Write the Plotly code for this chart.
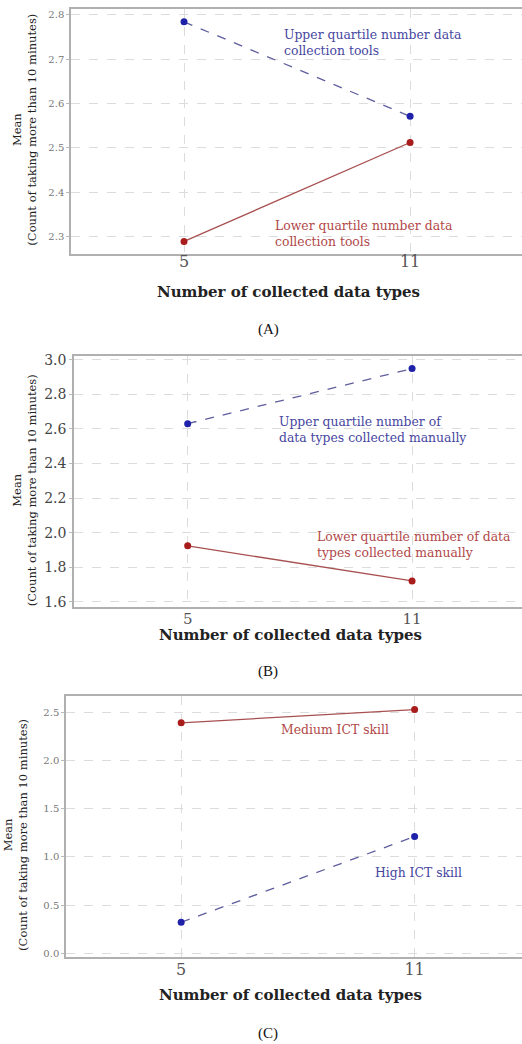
import plotly.graph_objects as go

W, H = 522, 1044

x_vals = [5, 11]
# Panel A
a_upper = [2.784, 2.571]
a_lower = [2.289, 2.512]
a_ticks = [2.3, 2.4, 2.5, 2.6, 2.7, 2.8]
# Panel B
b_upper = [2.63, 2.948]
b_lower = [1.924, 1.721]
b_ticks = [1.6, 1.8, 2.0, 2.2, 2.4, 2.6, 2.8, 3.0]
# Panel C
c_medium = [2.39, 2.528]
c_high = [0.322, 1.211]
c_ticks = [0.0, 0.5, 1.0, 1.5, 2.0, 2.5]

xtitle = "Number of collected data types"
ytitle = "Mean<br>(Count of taking more than 10 minutes)"

BLUE_M = "#1f22a8"
BLUE_L = "#5e5e9e"
RED_M = "#a81c1c"
RED_L = "#a85050"
BLUE_T = "#4646a0"
RED_T = "#b04848"
SERIF = "DejaVu Serif"
TIMES = "Liberation Serif"

def px(x):
    return x / W

def py(y):
    return 1 - y / H

fig = go.Figure()

panels = [
    dict(s="", blue=a_upper, red=a_lower, xr=[2.0, 13.97], yr=[2.26, 2.813],
         xd=[px(71), 1.0], yd=[py(252), py(5)], ticks=a_ticks, tfs=10, tc="#777777",
         xfs=16, xso=-8),
    dict(s="2", blue=b_upper, red=b_lower, xr=[1.96, 13.94], yr=[1.571, 3.023],
         xd=[px(74), 1.0], yd=[py(607), py(354)], ticks=b_ticks, tfs=14, tc="#444444",
         xfs=15, xso=-3),
    dict(s="3", blue=c_high, red=c_medium, xr=[2.04, 13.76], yr=[-0.034, 2.665],
         xd=[px(66), 1.0], yd=[py(959), py(697)], ticks=c_ticks, tfs=10, tc="#777777",
         xfs=16, xso=-3),
]

for p in panels:
    xa = "x" + p["s"]
    ya = "y" + p["s"]
    fig.add_trace(go.Scatter(x=x_vals, y=p["blue"], mode="lines+markers", xaxis=xa, yaxis=ya,
                             line=dict(color=BLUE_L, width=1.3, dash="dash"),
                             marker=dict(color=BLUE_M, size=7), showlegend=False))
    fig.add_trace(go.Scatter(x=x_vals, y=p["red"], mode="lines+markers", xaxis=xa, yaxis=ya,
                             line=dict(color=RED_L, width=1.3),
                             marker=dict(color=RED_M, size=7), showlegend=False))
    fig.update_layout(**{
        "xaxis" + p["s"]: dict(domain=p["xd"], range=p["xr"], anchor=ya, tickvals=x_vals,
                               ticktext=[str(v) for v in x_vals],
                               showgrid=True, gridcolor="#dcdcdc", griddash="dash", gridwidth=1,
                               showline=True, linecolor="#b0b0b0", linewidth=1.5, mirror=True,
                               ticks="", zeroline=False, ticklabelstandoff=p["xso"],
                               tickfont=dict(family=SERIF, size=p["xfs"], color="#555555")),
        "yaxis" + p["s"]: dict(domain=p["yd"], range=p["yr"], anchor=xa, tickvals=p["ticks"],
                               tickformat=".1f",
                               showgrid=True, gridcolor="#dcdcdc", griddash="dash", gridwidth=1,
                               showline=True, linecolor="#b0b0b0", linewidth=1.5, mirror=False,
                               ticks="outside", ticklen=3, tickcolor="#bbbbbb", zeroline=False,
                               tickfont=dict(family=SERIF, size=p["tfs"], color=p["tc"])),
    })

ann = []
labels = [
    ("x", "y", 7.61, 2.737, "Upper quartile number data<br>collection tools", BLUE_T),
    ("x", "y", 7.35, 2.307, "Lower quartile number data<br>collection tools", RED_T),
    ("x2", "y2", 7.39, 2.599, "Upper quartile number of<br>data types collected manually", BLUE_T),
    ("x2", "y2", 8.41, 1.931, "Lower quartile number of data<br>types collected manually", RED_T),
    ("x3", "y3", 7.52, 2.325, "Medium ICT skill", RED_T),
    ("x3", "y3", 9.93, 0.84, "High ICT skill", BLUE_T),
]
for xr, yr, x, y, t, c in labels:
    ann.append(dict(xref=xr, yref=yr, x=x, y=y, text=t, showarrow=False, xanchor="left",
                    yanchor="middle", align="left",
                    font=dict(family=SERIF, size=12.4, color=c)))

for cx, cy, ycx, ycy in [(288, 290, 24.5, 127), (290, 635, 24.5, 490), (290, 998, 15.5, 837)]:
    ann.append(dict(xref="paper", yref="paper", x=px(cx), y=py(cy), text="<b>" + xtitle + "</b>",
                    showarrow=False, xanchor="center", yanchor="middle",
                    font=dict(family=SERIF, size=15, color="#222222")))
    ann.append(dict(xref="paper", yref="paper", x=px(ycx), y=py(ycy), text=ytitle,
                    showarrow=False, xanchor="center", yanchor="middle", textangle=-90,
                    font=dict(family=SERIF, size=11.5, color="#222222")))
for cap, cy in [("(A)", 328), ("(B)", 672), ("(C)", 1036)]:
    ann.append(dict(xref="paper", yref="paper", x=px(268), y=py(cy), text=cap,
                    showarrow=False, xanchor="center", yanchor="middle",
                    font=dict(family=TIMES, size=15, color="#111111")))

fig.update_layout(width=W, height=H, margin=dict(l=0, r=0, t=0, b=0),
                  paper_bgcolor="white", plot_bgcolor="white", annotations=ann,
                  showlegend=False)

fig.write_html("out.html", config={"displayModeBar": False},
               post_script="document.body.style.margin='0px';")
